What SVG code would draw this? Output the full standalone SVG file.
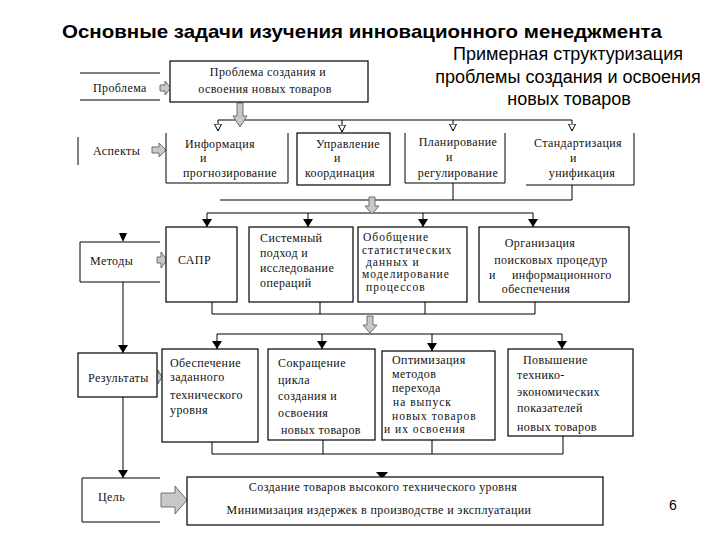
<svg xmlns="http://www.w3.org/2000/svg" width="720" height="540" viewBox="0 0 720 540">
<defs>
<style>
.t{font-family:"Liberation Serif","DejaVu Serif",serif;font-size:12px;fill:#111;letter-spacing:0.4px}
.s{font-size:11.5px;letter-spacing:1px}
.h{font-family:"Liberation Sans",Arial,sans-serif;fill:#000}
.ln{stroke:#000;stroke-width:1;fill:none}
.bx{stroke:#000;stroke-width:1.2;fill:#fff}
.ga{fill:#c8c8c8;stroke:#6e6e6e;stroke-width:1}
.ah{fill:#000}
</style>
<marker id="af" markerUnits="userSpaceOnUse" markerWidth="8" markerHeight="10" viewBox="0 0 8 10" refX="8" refY="5" orient="auto"><path d="M0,0 L8,5 L0,10 z" fill="#000"/></marker>
<marker id="ao" markerUnits="userSpaceOnUse" markerWidth="8" markerHeight="8" viewBox="0 0 8 8" refX="7.5" refY="4" orient="auto"><path d="M0.5,0.5 L7.5,4 L0.5,7.5 z" fill="#fff" stroke="#000" stroke-width="1"/></marker>
</defs>
<rect width="720" height="540" fill="#fff"/>

<text class="h" x="62" y="38" font-size="19" font-weight="bold" textLength="600" lengthAdjust="spacingAndGlyphs">Основные задачи изучения инновационного менеджмента</text>
<g id="subtitle" class="h" font-size="18" text-anchor="middle">
<text x="568" y="60">Примерная структуризация</text>
<text x="568" y="83">проблемы создания и освоения</text>
<text x="569" y="105">новых товаров</text>
</g>

<g id="connectors">
<path class="ln" d="M218,120 H572"/>
<path class="ln" d="M218,120 V131" marker-end="url(#ao)"/>
<path class="ln" d="M342,120 V132" marker-end="url(#ao)"/>
<path class="ln" d="M453,120 V131" marker-end="url(#ao)"/>
<path class="ln" d="M572,120 V131" marker-end="url(#ao)"/>
<path class="ln" d="M453,183 V200 M572,185 V200 M220,200 H572"/>
<path class="ln" d="M207,213 H533"/>
<path class="ln" d="M207,213 V227" marker-end="url(#af)"/>
<path class="ln" d="M308,213 V227" marker-end="url(#af)"/>
<path class="ln" d="M423,213 V227" marker-end="url(#af)"/>
<path class="ln" d="M533,213 V227" marker-end="url(#af)"/>
<path class="ln" d="M212,302 V314 M320,302 V314 M425,302 V314 M535,302 V314 M212,314 H535"/>
<path class="ln" d="M217,334 H562"/>
<path class="ln" d="M217,334 V349" marker-end="url(#af)"/>
<path class="ln" d="M322,334 V349" marker-end="url(#af)"/>
<path class="ln" d="M432,334 V351" marker-end="url(#af)"/>
<path class="ln" d="M562,334 V349" marker-end="url(#af)"/>
<path class="ln" d="M212,442 V454 M323,440 V454 M432,440 V454 M563,436 V454 M212,454 H563"/>
<path class="ah" d="M119,233 L127,233 L123,242 z"/>
<path class="ln" d="M123,282 V353" marker-end="url(#af)"/>
<path class="ln" d="M123,397 V478" marker-end="url(#af)"/>
<path class="ah" d="M376,472 L388,472 L382,479 z"/>
<polygon class="ga" points="237,103 243,103 243,116 247,116 240,127 233,116 237,116"/>
<polygon class="ga" points="369,197 375,197 375,206 379,206 372,214 365,206 369,206"/>
<polygon class="ga" points="367,316 373,316 373,325 377,325 370,333 363,325 367,325"/>
<polygon class="ga" points="160,85 165,85 165,81 171,88 165,95 165,91 160,91"/>
<polygon class="ga" points="152,147 159,147 159,143 166,150 159,157 159,153 152,153"/>
<polygon class="ga" points="157,257 161,257 161,252 167,260 161,268 161,263 157,263"/>
<polygon class="ga" points="155,374 158,374 158,370 162,377 158,384 158,380 155,380"/>
<polygon class="ga" points="161,493 175,493 175,486 187,500 175,514 175,507 161,507"/>
</g>

<g id="label-problem">
<path class="ln" d="M80,73 H160 M80,100 H160"/>
<text class="t" x="93" y="92" letter-spacing="1">Проблема</text>
</g>
<g id="label-aspects">
<path class="ln" d="M78,137 V165"/>
<text class="t" x="93" y="155" letter-spacing="1">Аспекты</text>
</g>
<g id="label-methods">
<path class="ln" d="M160,242 H80 V282 H160"/>
<text class="t" x="90" y="265" letter-spacing="0.8">Методы</text>
</g>
<g id="label-results">
<rect class="bx" x="78" y="353" width="79" height="44" fill="none"/>
<text class="t" x="88" y="382">Результаты</text>
</g>
<g id="label-goal">
<path class="ln" d="M160,478 H82 V522 H160"/>
<text class="t" x="98" y="501">Цель</text>
</g>

<g id="problem">
<rect class="bx" x="170" y="61" width="198" height="41"/>
<text class="t" x="268" y="76" text-anchor="middle" letter-spacing="1.3">Проблема создания и</text>
<text class="t" x="265" y="93" text-anchor="middle" letter-spacing="1">освоения новых товаров</text>
</g>

<g id="aspect-info">
<path class="ln" d="M166,133 V183 H288 V133"/>
<text class="t" x="220" y="148" text-anchor="middle">Информация</text>
<text class="t" x="200" y="162">и</text>
<text class="t" x="230" y="177" text-anchor="middle">прогнозирование</text>
</g>
<g id="aspect-control">
<rect class="bx" x="297" y="133" width="93" height="52" fill="none"/>
<text class="t" x="348" y="148" text-anchor="middle">Управление</text>
<text class="t" x="334" y="162">и</text>
<text class="t" x="340" y="177" text-anchor="middle">координация</text>
</g>
<g id="aspect-plan">
<path class="ln" d="M405,133 V183 H505 V133"/>
<text class="t" x="458" y="146" text-anchor="middle" letter-spacing="1">Планирование</text>
<text class="t" x="446" y="161">и</text>
<text class="t" x="458" y="177" text-anchor="middle" letter-spacing="1">регулирование</text>
</g>
<g id="aspect-std">
<path class="ln" d="M526,185 H634 V133"/>
<text class="t" x="578" y="147" text-anchor="middle">Стандартизация</text>
<text class="t" x="570" y="162">и</text>
<text class="t" x="582" y="177" text-anchor="middle">унификация</text>
</g>

<g id="method-cad">
<rect class="bx" x="166" y="227" width="71" height="75"/>
<text class="t" x="178" y="264">САПР</text>
</g>
<g id="method-system">
<rect class="bx" x="249" y="227" width="104" height="75"/>
<text class="t" x="260" y="242">Системный</text>
<text class="t" x="260" y="257">подход и</text>
<text class="t" x="260" y="272" font-size="11">исследование</text>
<text class="t" x="260" y="287">операций</text>
</g>
<g id="method-stat">
<rect class="bx" x="358" y="227" width="109" height="75"/>
<text class="t s" x="363" y="241">Обобщение</text>
<text class="t s" x="362" y="254">статистических</text>
<text class="t s" x="366" y="266">данных  и</text>
<text class="t s" x="362" y="278">моделирование</text>
<text class="t s" x="366" y="291">процессов</text>
</g>
<g id="method-org">
<rect class="bx" x="479" y="227" width="150" height="75"/>
<text class="t" x="540" y="247" text-anchor="middle">Организация</text>
<text class="t" x="551" y="264" text-anchor="middle">поисковых процедур</text>
<text class="t" x="489" y="279">и</text>
<text class="t" x="512" y="279">информационного</text>
<text class="t" x="536" y="293" text-anchor="middle">обеспечения</text>
</g>

<g id="result-level">
<rect class="bx" x="162" y="349" width="96" height="93"/>
<text class="t" x="170" y="367">Обеспечение</text>
<text class="t" x="170" y="381">заданного</text>
<text class="t" x="170" y="399">технического</text>
<text class="t" x="170" y="414">уровня</text>
</g>
<g id="result-cycle">
<rect class="bx" x="268" y="349" width="107" height="91"/>
<text class="t" x="278" y="367">Сокращение</text>
<text class="t" x="278" y="384">цикла</text>
<text class="t" x="278" y="400">создания и</text>
<text class="t" x="278" y="417">освоения</text>
<text class="t" x="281" y="434">новых  товаров</text>
</g>
<g id="result-optim">
<rect class="bx" x="382" y="351" width="113" height="89"/>
<text class="t" x="392" y="364">Оптимизация</text>
<text class="t" x="392" y="378">методов</text>
<text class="t" x="392" y="392">перехода</text>
<text class="t s" x="393" y="406">на выпуск</text>
<text class="t s" x="392" y="420">новых  товаров</text>
<text class="t s" x="384" y="433">и их освоения</text>
</g>
<g id="result-econ">
<rect class="bx" x="508" y="349" width="125" height="87"/>
<text class="t" x="523" y="364">Повышение</text>
<text class="t" x="517" y="379">технико-</text>
<text class="t" x="517" y="396">экономических</text>
<text class="t" x="517" y="412">показателей</text>
<text class="t" x="517" y="431">новых товаров</text>
</g>

<g id="goal">
<rect class="bx" x="187" y="477" width="416" height="48"/>
<text class="t" x="383" y="491" text-anchor="middle" letter-spacing="1">Создание товаров высокого технического уровня</text>
<text class="t" x="379" y="514" text-anchor="middle" letter-spacing="1">Минимизация издержек в производстве и эксплуатации</text>
</g>

<text class="h" x="673" y="510" font-size="14" text-anchor="middle">6</text>
</svg>
